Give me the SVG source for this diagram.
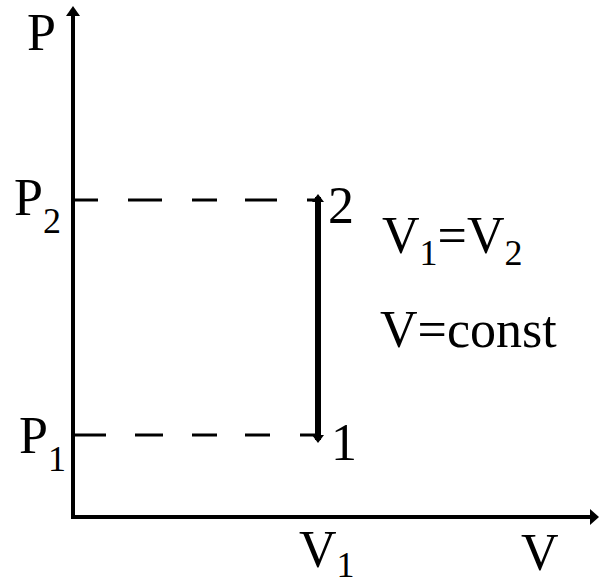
<svg xmlns="http://www.w3.org/2000/svg" width="599" height="587" viewBox="0 0 599 587">
<style>
.t{font-family:"Liberation Serif","Times New Roman",serif;fill:#000}
.big{font-size:52px}
.sub{font-size:36px}
.axis{stroke:#000;stroke-width:4;fill:none}
.dash{stroke:#000;stroke-width:3;fill:none}
</style>
<rect width="599" height="587" fill="#fff"/>
<g id="connectors">
<line class="axis" x1="73" y1="10" x2="73" y2="519"/>
<polygon points="73,6 66,16 80,16" fill="#000"/>
<line class="axis" x1="71" y1="517" x2="592" y2="517"/>
<polygon points="599,517 590,509 590,525" fill="#000"/>
<g id="dash-p2">
<line class="dash" x1="73" y1="200" x2="98" y2="200"/>
<line class="dash" x1="128" y1="200" x2="162" y2="200"/>
<line class="dash" x1="192" y1="200" x2="217" y2="200"/>
<line class="dash" x1="245" y1="200" x2="277" y2="200"/>
<line class="dash" x1="307" y1="200" x2="318" y2="200"/>
</g>
<g id="dash-p1">
<line class="dash" x1="73" y1="435" x2="106" y2="435"/>
<line class="dash" x1="135" y1="435" x2="163" y2="435"/>
<line class="dash" x1="192" y1="435" x2="217" y2="435"/>
<line class="dash" x1="245" y1="435" x2="270" y2="435"/>
<line class="dash" x1="300" y1="435" x2="318" y2="435"/>
</g>
<line id="process" x1="318" y1="197" x2="318" y2="440" stroke="#000" stroke-width="6"/>
<polygon points="318,194 312,202 324,202" fill="#000"/>
<polygon points="318,443 312,435 324,435" fill="#000"/>
</g>
<g id="axis-p"><text class="t big" x="27" y="50">P</text></g>
<g id="axis-v"><text class="t big" x="521" y="570">V</text></g>
<g id="label-p2"><text class="t big" x="14" y="215">P<tspan class="sub" dy="18">2</tspan></text></g>
<g id="label-p1"><text class="t big" x="19" y="453">P<tspan class="sub" dy="18">1</tspan></text></g>
<g id="label-v1"><text class="t big" x="299" y="567">V<tspan class="sub" dy="10">1</tspan></text></g>
<g id="point2"><text class="t big" x="328" y="223">2</text></g>
<g id="point1"><text class="t big" x="331" y="460">1</text></g>
<g id="eq1"><text class="t big" x="382" y="253">V<tspan class="sub" dy="12">1</tspan><tspan dy="-12">=V</tspan><tspan class="sub" dy="12">2</tspan></text></g>
<g id="eq2"><text class="t big" x="380" y="347">V=const</text></g>
</svg>
